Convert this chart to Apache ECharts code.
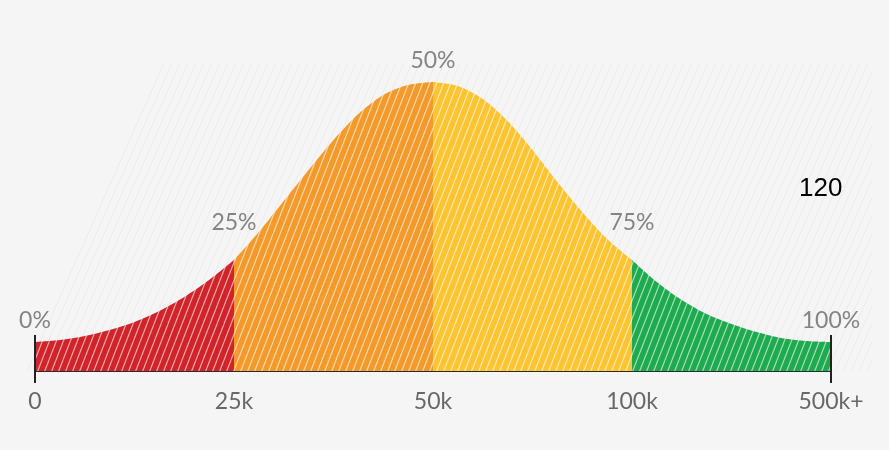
<!DOCTYPE html>
<html>
<head>
<meta charset="utf-8">
<script src="https://cdn.jsdelivr.net/npm/echarts@6/dist/echarts.min.js"></script>
<style>
  html, body { margin: 0; padding: 0; background: #f5f5f5; }
  #chart { width: 889px; height: 450px; }
</style>
</head>
<body>
<div id="chart"></div>
<script>
// Income brackets along the axis (evenly spaced positions 0..4)
const tickLabels = ['0', '25k', '50k', '100k', '500k+'];
// Percentile markers above the curve, at the same positions
const pctLabels = ['0%', '25%', '50%', '75%', '100%'];

// Distribution curve: position along the axis and relative height
const curveX = [
  0, 0.125, 0.25, 0.375, 0.5, 0.625, 0.75, 0.875,
  1, 1.125, 1.25, 1.375, 1.5, 1.625, 1.75, 1.875,
  2, 2.125, 2.25, 2.375, 2.5, 2.625, 2.75, 2.875,
  3, 3.125, 3.25, 3.375, 3.5, 3.625, 3.75, 3.875, 4
];
const curveY = [
  29, 31, 35, 41, 49, 60, 74, 91,
  111, 139, 170, 201, 231, 257, 276, 286,
  289, 285, 272, 250, 221, 189, 159, 132,
  111, 89, 71, 57, 47, 39, 33, 30, 29
];

// Quartile bands
const bandNames = ['0–25k', '25k–50k', '50k–100k', '100k–500k+'];
const bandColors = ['#d1232a', '#f39a2a', '#fdc431', '#1eaa4e'];

// Diagonal hatch tile: solid base colour with a thin light stripe
function hatch(base, stroke, w, h, lw) {
  const c = document.createElement('canvas');
  c.width = w; c.height = h;
  const g = c.getContext('2d');
  if (base) { g.fillStyle = base; g.fillRect(0, 0, w, h); }
  g.strokeStyle = stroke;
  g.lineWidth = lw;
  for (let k = -1; k <= 1; k++) {
    g.beginPath();
    g.moveTo(k * w, h);
    g.lineTo(k * w + w, 0);
    g.stroke();
  }
  return c;
}

const series = bandNames.map((name, i) => {
  const pts = [];
  curveX.forEach((x, j) => { if (x >= i && x <= i + 1) pts.push([x, curveY[j]]); });
  return {
    name: name,
    type: 'line',
    data: pts,
    smooth: 0.3,
    symbol: 'none',
    lineStyle: { width: 0 },
    areaStyle: {
      opacity: 1,
      color: { image: hatch(bandColors[i], 'rgba(255,255,255,0.6)', 7, 18, 1.2), repeat: 'repeat' }
    },
    z: 3,
    silent: true
  };
});

// End marks of the axis
[0, 4].forEach(p => {
  series.push({
    type: 'line',
    data: [[p, -12], [p, 36]],
    symbol: 'none',
    clip: false,
    lineStyle: { color: '#222', width: 2 },
    z: 5,
    silent: true
  });
});

// Percentile labels floating above the curve
const labelLift = [21, 37, 21, 37, 21];
series.push({
  type: 'scatter',
  symbolSize: 0,
  clip: false,
  silent: true,
  z: 6,
  data: pctLabels.map((t, i) => {
    const j = curveX.indexOf(i);
    return { value: [i, curveY[j] + labelLift[i]], name: t };
  }),
  label: {
    show: true,
    position: 'inside',
    formatter: p => p.name,
    color: '#686868',
    fontSize: 23,
    fontFamily: 'Lato'
  }
});

const chart = echarts.init(document.getElementById('chart'), null, { renderer: 'canvas' });
chart.setOption({
  backgroundColor: '#f5f5f5',
  animation: false,
  grid: { left: 35, right: 58, top: 71, bottom: 79, containLabel: false, outerBoundsMode: 'none' },
  xAxis: {
    type: 'value',
    min: 0, max: 4, interval: 1,
    axisLine: { show: true, lineStyle: { color: '#2b2b2b', width: 2 } },
    axisTick: { show: false },
    splitLine: { show: false },
    axisLabel: {
      formatter: v => tickLabels[v] || '',
      color: '#686868',
      fontSize: 23,
      fontFamily: 'Lato',
      margin: 19
    }
  },
  yAxis: { type: 'value', min: 0, max: 300, show: false },
  graphic: [
    {
      type: 'polygon',
      z: 0,
      silent: true,
      shape: { points: [[157, 63], [872, 63], [872, 371], [22, 371]] },
      style: { fill: { image: hatch(null, 'rgba(0,0,0,0.045)', 8, 18, 1), repeat: 'repeat' } }
    },
    {
      type: 'text',
      left: 799, top: 176,
      silent: true,
      style: { text: '120', fill: '#000', font: '26px "Liberation Sans", Arial, sans-serif' }
    }
  ],
  series: series
});
</script>
</body>
</html>
